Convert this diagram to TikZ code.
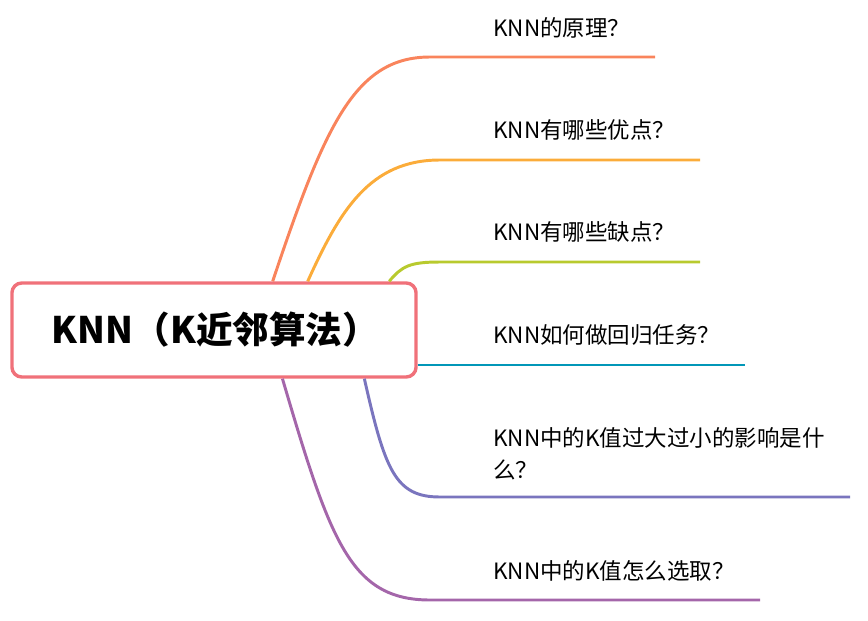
\documentclass[tikz,border=0pt]{standalone}
\usepackage{fontspec}
\newfontfamily\cjk{Noto Sans CJK SC}
\usetikzlibrary{positioning,calc}
\definecolor{rootred}{HTML}{F0717A}
\definecolor{brcoral}{HTML}{F9845C}
\definecolor{brorange}{HTML}{FBAC3A}
\definecolor{brlime}{HTML}{B8CA2E}
\definecolor{brteal}{HTML}{0197B8}
\definecolor{brindigo}{HTML}{7A75BE}
\definecolor{brpurple}{HTML}{A466AA}
\tikzset{
  every node/.style={font=\cjk},
  root/.style={
    draw=rootred, rounded corners=7pt, line width=2.4pt,
    fill=white, align=left, inner xsep=0pt,
    minimum width=10.1cm, minimum height=2.35cm, text width=8.1cm,
    font=\cjk\bfseries\fontsize{26}{31}\selectfont
  },
  topic/.style={
    anchor=west, inner sep=0pt, align=left,
    font=\cjk\fontsize{16}{22.7}\selectfont
  },
  branch/.style={draw=#1, line width=2.1pt}
}

\begin{document}
\begin{tikzpicture}[x=0.025cm, y=-0.025cm]
\useasboundingbox (0,0) rectangle (868,620);

\node[root] (root) at (214,330) {KNN（K近邻算法）};

\node[topic] (q1) at (493,28) {KNN的原理？};
\node[topic] (q2) at (493,130) {KNN有哪些优点？};
\node[topic] (q3) at (493,232) {KNN有哪些缺点？};
\node[topic] (q4) at (493,335) {KNN如何做回归任务？};
\node[topic] (q5) at (493,454) {KNN中的K值过大过小的影响是什\\么？};
\node[topic] (q6) at (493,571) {KNN中的K值怎么选取？};

% underline ends
\coordinate (u1) at (655,57);
\coordinate (u2) at (700,160);
\coordinate (u3) at (700,262);
\coordinate (u4) at (745,365);
\coordinate (u5) at (850,497);
\coordinate (u6) at (760,600);

\draw[branch=brcoral] ($(root.north west)!.644!(root.north east)$)
  .. controls (325,125) and (355,57) .. (430,57) -- (u1);
\draw[branch=brorange] ($(root.north west)!.73!(root.north east)$)
  .. controls (340,210) and (370,160) .. (440,160) -- (u2);
\draw[branch=brlime] ($(root.north west)!.93!(root.north east)$)
  .. controls (402,266) and (410,262) .. (440,262) -- (u3);
\draw[branch=brteal] (root.east |- u4) -- (u4);
\draw[branch=brindigo] ($(root.south west)!.869!(root.south east)$)
  .. controls (385,470) and (395,497) .. (440,497) -- (u5);
\draw[branch=brpurple] ($(root.south west)!.668!(root.south east)$)
  .. controls (330,540) and (350,600) .. (430,600) -- (u6);

\end{tikzpicture}
\end{document}
